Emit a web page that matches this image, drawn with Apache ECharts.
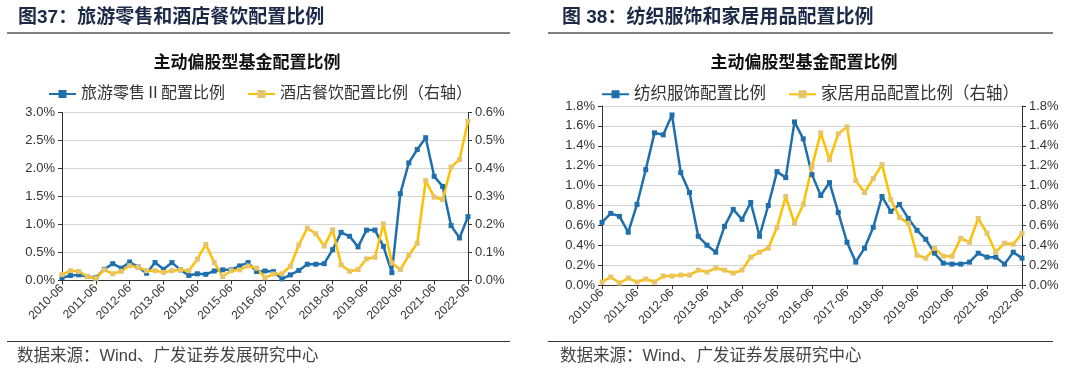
<!DOCTYPE html>
<html>
<head>
<meta charset="utf-8">
<script src="https://cdn.jsdelivr.net/npm/echarts@6/dist/echarts.min.js"></script>
<style>
html,body{margin:0;padding:0;background:#fff;}
#c{width:1080px;height:371px;}
</style>
</head>
<body>
<div id="c"></div>
<script>
// Quarterly categories
const categories = [
'2010-06','2010-09','2010-12',
'2011-03','2011-06','2011-09','2011-12',
'2012-03','2012-06','2012-09','2012-12',
'2013-03','2013-06','2013-09','2013-12',
'2014-03','2014-06','2014-09','2014-12',
'2015-03','2015-06','2015-09','2015-12',
'2016-03','2016-06','2016-09','2016-12',
'2017-03','2017-06','2017-09','2017-12',
'2018-03','2018-06','2018-09','2018-12',
'2019-03','2019-06','2019-09','2019-12',
'2020-03','2020-06','2020-09','2020-12',
'2021-03','2021-06','2021-09','2021-12',
'2022-03','2022-06'
];

// Panel 37 (left): 旅游零售Ⅱ (left axis, %), 酒店餐饮 (right axis, %)
const tourismRetail = [
0.05,0.09,0.10,0.07,0.05,0.20,0.30,0.22,0.33,0.24,
0.13,0.32,0.20,0.32,0.19,0.09,0.12,0.11,0.17,0.19,
0.19,0.26,0.32,0.16,0.17,0.16,0.03,0.10,0.18,0.29,
0.29,0.30,0.55,0.86,0.79,0.60,0.90,0.90,0.61,0.14,
1.55,2.10,2.34,2.55,1.86,1.68,0.98,0.76,1.14
];
const hotelCatering = [
0.021,0.035,0.032,0.014,0.008,0.038,0.024,0.033,0.053,0.047,
0.035,0.035,0.029,0.035,0.038,0.035,0.076,0.129,0.064,0.014,
0.035,0.038,0.052,0.044,0.010,0.023,0.024,0.051,0.127,0.187,
0.167,0.123,0.181,0.056,0.033,0.039,0.077,0.083,0.202,0.063,
0.039,0.089,0.133,0.357,0.298,0.289,0.405,0.432,0.569
];

// Panel 38 (right): 纺织服饰 (left axis, %), 家居用品 (right axis, %)
const textileApparel = [
0.63,0.72,0.69,0.53,0.81,1.16,1.53,1.51,1.71,1.13,
0.93,0.49,0.40,0.33,0.59,0.76,0.66,0.83,0.49,0.80,
1.14,1.08,1.64,1.47,1.11,0.90,1.03,0.73,0.43,0.23,
0.37,0.58,0.89,0.74,0.81,0.67,0.55,0.46,0.32,0.22,
0.21,0.21,0.23,0.32,0.28,0.28,0.21,0.33,0.27
];
const homeFurnishing = [
0.03,0.08,0.02,0.07,0.03,0.06,0.03,0.09,0.09,0.10,
0.10,0.15,0.13,0.17,0.15,0.12,0.15,0.28,0.33,0.37,
0.58,0.89,0.62,0.81,1.19,1.53,1.26,1.52,1.59,1.05,
0.93,1.07,1.21,0.86,0.68,0.62,0.30,0.27,0.37,0.29,
0.29,0.47,0.43,0.67,0.52,0.33,0.42,0.41,0.52
];

const leftTitle = '图37：旅游零售和酒店餐饮配置比例';
const rightTitle = '图 38：纺织服饰和家居用品配置比例';
const innerTitle = '主动偏股型基金配置比例';
const sourceText = '数据来源：Wind、广发证券发展研究中心';
const names = ['旅游零售Ⅱ配置比例','酒店餐饮配置比例（右轴）','纺织服饰配置比例','家居用品配置比例（右轴）'];

const BLUE = '#1f6fad';
const YEL = '#ffc000';
const YEL_M = '#e6c46a';
const NUMF = '"Liberation Sans", Arial, "Noto Sans CJK SC", sans-serif';
const CJKF = '"Liberation Sans", "Noto Sans CJK SC", sans-serif';

function xAxis(gi){
  return {
    type:'category', gridIndex:gi, data:categories, boundaryGap:false,
    axisLine:{lineStyle:{color:'#333',width:1}},
    axisTick:{interval:3, length:4, lineStyle:{color:'#333'}},
    axisLabel:{interval:3, rotate:45, fontSize:12, color:'#333', fontFamily:NUMF, margin:6},
    splitLine:{show:false}
  };
}
function yAxis(gi,pos,max,interval,split){
  return {
    type:'value', gridIndex:gi, position:pos, min:0, max:max, interval:interval,
    axisLine:{show:true, lineStyle:{color:'#333',width:1}},
    axisTick:{show:true, length:4, lineStyle:{color:'#333'}},
    axisLabel:{fontSize:13, color:'#333', fontFamily:NUMF, margin:7,
      formatter:function(v){return v.toFixed(1)+'%';}},
    splitLine:{show:split, lineStyle:{color:'#d4d4d4',width:1}}
  };
}
function lineSeries(name,data,xi,yi,color,mcolor){
  return {
    name:name, type:'line', data:data, xAxisIndex:xi, yAxisIndex:yi,
    symbol:'rect', symbolSize:5, showSymbol:true,
    lineStyle:{color:color,width:2.5},
    itemStyle:{color:mcolor,borderWidth:0},
    emphasis:{disabled:true}
  };
}
function txt(text,x,y,size,weight,color,align,font){
  return {type:'text', style:{text:text, x:x, y:y, fontSize:size, fontWeight:weight, fill:color,
    fontFamily:font||CJKF, textAlign:align||'left', textVerticalAlign:'middle'}};
}
function rule(x1,x2,y,w,c){
  return {type:'line', shape:{x1:x1,y1:y,x2:x2,y2:y}, style:{stroke:c,lineWidth:w}};
}

const chart = echarts.init(document.getElementById('c'), null, {renderer:'canvas'});
chart.setOption({
  animation:false,
  backgroundColor:'#fff',
  grid:[
    {left:62, top:112.5, width:406, height:168},
    {left:602, top:106, width:420, height:179}
  ],
  legend:[
    {data:[names[0],names[1]], left:43, top:81, itemGap:22, itemWidth:27, itemHeight:10,
     textStyle:{fontSize:16, color:'#333', fontFamily:CJKF}},
    {data:[names[2],names[3]], left:596, top:81, itemGap:22, itemWidth:27, itemHeight:10,
     textStyle:{fontSize:16.5, color:'#333', fontFamily:CJKF}}
  ],
  xAxis:[xAxis(0), xAxis(1)],
  yAxis:[
    yAxis(0,'left',3,0.5,true),
    yAxis(0,'right',0.6,0.1,false),
    yAxis(1,'left',1.8,0.2,true),
    yAxis(1,'right',1.8,0.2,false)
  ],
  series:[
    lineSeries(names[0],tourismRetail,0,0,BLUE,BLUE),
    lineSeries(names[1],hotelCatering,0,1,YEL,YEL_M),
    lineSeries(names[2],textileApparel,1,2,BLUE,BLUE),
    lineSeries(names[3],homeFurnishing,1,3,YEL,YEL_M)
  ],
  graphic:[
    txt(leftTitle,18,18,19,'bold','#1c2a48'),
    txt(rightTitle,562,18,19,'bold','#1c2a48'),
    rule(7,510,33,1.5,'#555'),
    rule(548,1053,33,1.5,'#555'),
    txt(innerTitle,247,63,17,'bold','#111','center'),
    txt(innerTitle,804,63,17,'bold','#111','center'),
    rule(7,510,341.5,1.2,'#333'),
    rule(548,1053,341.5,1.2,'#333'),
    txt(sourceText,17,356,16.5,'normal','#444'),
    txt(sourceText,560,356,16.5,'normal','#444')
  ]
});
</script>
</body>
</html>
